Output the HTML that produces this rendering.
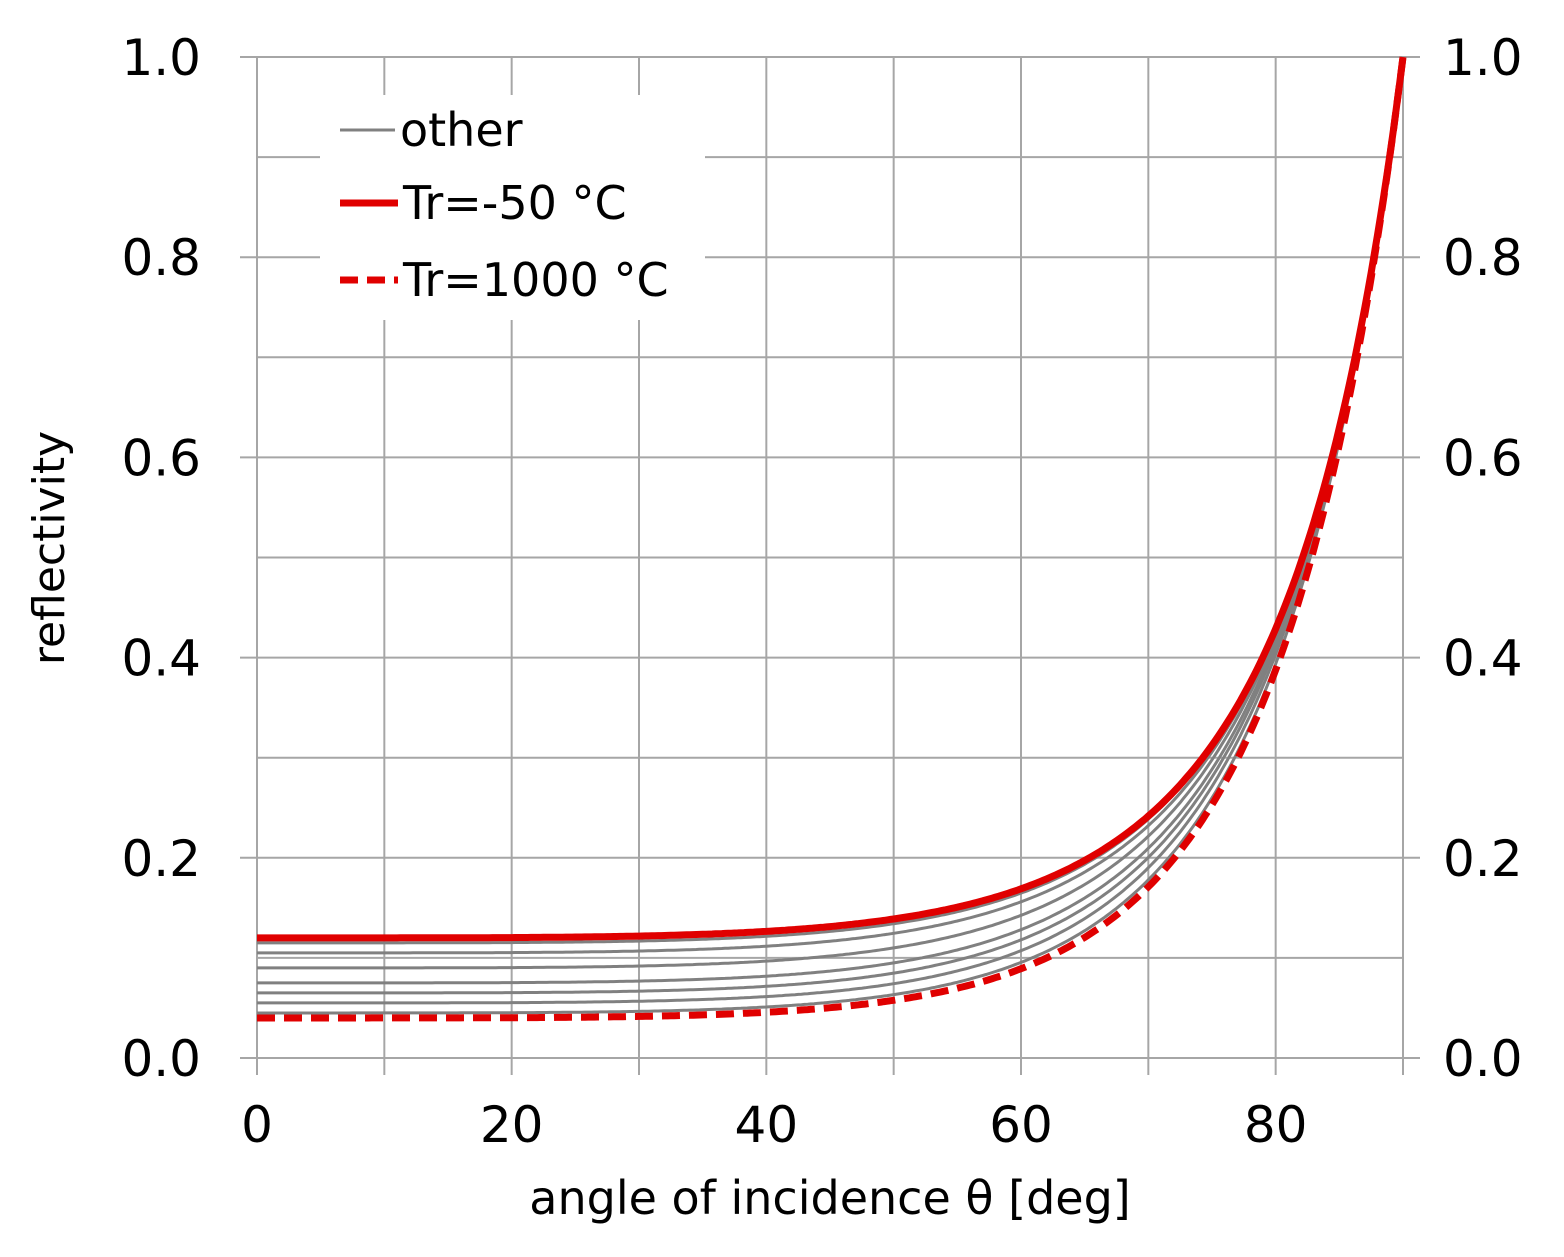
<!DOCTYPE html>
<html><head><meta charset="utf-8"><style>
html,body{margin:0;padding:0;background:#fff;}
svg{display:block;font-family:"DejaVu Sans","Liberation Sans",sans-serif;}
</style></head><body>
<svg id="s" width="1564" height="1257" viewBox="0 0 1564 1257" xmlns="http://www.w3.org/2000/svg">
<g id="grid" stroke="#a6a6a6" stroke-width="2"></g>
<g id="curves" fill="none"></g>
<rect x="320" y="95" width="385" height="225" fill="#fff"/>
<line x1="340" y1="130" x2="395" y2="130" stroke="#808080" stroke-width="3"/>
<text x="400" y="146" font-size="46" fill="#000">other</text>
<line x1="340" y1="203" x2="398" y2="203" stroke="#e00000" stroke-width="7"/>
<text x="403" y="219" font-size="46" fill="#000">Tr=-50 °C</text>
<line x1="340" y1="280" x2="398" y2="280" stroke="#e00000" stroke-width="7" stroke-dasharray="18,9"/>
<text x="403" y="296" font-size="46" fill="#000">Tr=1000 °C</text>
<g id="labels" font-size="50" fill="#000"></g>
<text x="830" y="1214" font-size="46" text-anchor="middle">angle of incidence θ [deg]</text>
<text transform="translate(64,548) rotate(-90)" font-size="44" text-anchor="middle">reflectivity</text>
</svg>
<script>
var X0=257,X1=1403,Y0=1058,Y1=57;
function px(a){return X0+(X1-X0)*a/90;}
function py(r){return Y0-(Y0-Y1)*r;}
var g=document.getElementById('grid'),L=document.getElementById('labels'),C=document.getElementById('curves');
var h='';
for(var i=1;i<=9;i++){h+='<line x1="'+px(i*10)+'" y1="'+Y1+'" x2="'+px(i*10)+'" y2="1075"/>';}
h+='<line x1="'+X0+'" y1="'+Y1+'" x2="'+X0+'" y2="1075"/>';
for(var j=0;j<=10;j++){var y=py(j/10);var major=j%2==0;
h+='<line x1="'+(major?240:X0)+'" y1="'+y+'" x2="'+(major?1420:X1)+'" y2="'+y+'"/>';}
g.innerHTML=h;
var t='';
for(var j=0;j<=5;j++){var v=(j*0.2).toFixed(1);var y=py(j*0.2)+18;
t+='<text x="201" y="'+y+'" text-anchor="end">'+v+'</text>';
t+='<text x="1443" y="'+y+'">'+v+'</text>';}
for(var i=0;i<=8;i+=2){t+='<text x="'+px(i*10)+'" y="1142" text-anchor="middle">'+(i*10)+'</text>';}
L.innerHTML=t;
function R(n,a){var th=a*Math.PI/180,c=Math.cos(th),s=Math.sin(th);var ct=Math.sqrt(1-(s/n)*(s/n));
var rs=(c-n*ct)/(c+n*ct),rp=(ct-n*c)/(ct+n*c);return (rs*rs+rp*rp)/2;}
function path(R0){var q=Math.sqrt(R0),n=(1+q)/(1-q),d='';
for(var a=0;a<=90.001;a+=0.25){var aa=Math.min(a,89.999);d+=(a==0?'M':'L')+px(a).toFixed(1)+','+py(R(n,aa)).toFixed(1);}return d;}
var c='';
[0.115,0.105,0.09,0.075,0.065,0.055,0.045].forEach(function(r){c+='<path d="'+path(r)+'" stroke="#808080" stroke-width="3"/>';});
c+='<path d="'+path(0.04)+'" stroke="#e00000" stroke-width="7" stroke-dasharray="18,9"/>';
c+='<path d="'+path(0.12)+'" stroke="#e00000" stroke-width="7"/>';
C.innerHTML=c;
</script>
</body></html>
